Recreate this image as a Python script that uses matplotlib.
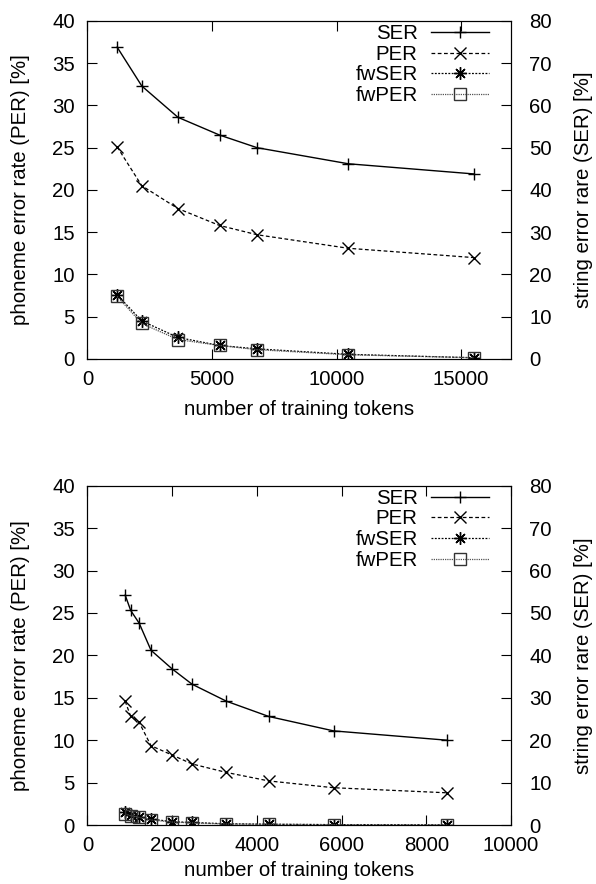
import matplotlib as mpl
import matplotlib.pyplot as plt
import numpy as np

mpl.rc('font', family='Liberation Sans', size=14.7)

# top panel data
tok_a = [1190, 2180, 3630, 5300, 6810, 10470, 15500]
ser_a = [73.8, 64.6, 57.2, 53.0, 50.0, 46.2, 43.8]      # right axis (SER %)
per_a = [25.1, 20.5, 17.8, 15.8, 14.7, 13.1, 12.0]      # left axis (PER %)
fwser_a = [15.2, 9.0, 5.1, 3.2, 2.4, 1.1, 0.3]          # right axis
fwper_a = [7.4, 4.2, 2.3, 1.6, 1.1, 0.5, 0.15]          # left axis

# bottom panel data
tok_b = [890, 1020, 1220, 1500, 2000, 2470, 3280, 4280, 5810, 8490]
ser_b = [54.2, 50.6, 47.6, 41.2, 36.8, 33.2, 29.2, 25.6, 22.2, 20.0]
per_b = [14.6, 12.8, 12.1, 9.35, 8.25, 7.2, 6.2, 5.2, 4.4, 3.8]
fwser_b = [3.0, 2.4, 2.0, 1.4, 0.8, 0.6, 0.3, 0.2, 0.1, 0.04]
fwper_b = [1.3, 1.1, 0.9, 0.6, 0.35, 0.25, 0.12, 0.08, 0.04, 0.02]

fig = plt.figure(figsize=(5.96, 8.84), dpi=100)


def panel(rect, tok, ser, per, fwser, fwper, xmax, xticks, xlabpad):
    ax = fig.add_axes(rect)
    ax2 = ax.twinx()
    ax.set_zorder(ax2.get_zorder() + 1)
    ax.patch.set_visible(False)

    h1, = ax2.plot(tok, ser, color='black', lw=1.0, ls='-', marker='+',
                   ms=9, mew=1.0, label='SER')
    h2, = ax.plot(tok, per, color='black', lw=0.9, ls=(0, (3, 2)), marker='x',
                  ms=8.5, mew=1.0, label='PER')
    h3, = ax2.plot(tok, fwser, color='black', lw=0.9, ls=(0, (1.5, 1.2)),
                   marker=(8, 2, 0), ms=9, mew=1.0, label='fwSER')
    h4, = ax.plot(tok, fwper, color='#555555', lw=0.9, ls=(0, (1, 0.8)),
                  marker='s', ms=9, mew=1.0, mfc='none', mec='#333333',
                  label='fwPER')

    ax.set_xlim(0, xmax)
    ax.set_ylim(0, 40)
    ax2.set_ylim(0, 80)
    ax.set_xticks(xticks)
    ax.set_yticks(np.arange(0, 41, 5))
    ax2.set_yticks(np.arange(0, 81, 10))
    ax.tick_params(axis='x', direction='in', length=7, width=0.8, top=True,
                   pad=8)
    ax.tick_params(axis='y', direction='in', length=7, width=0.8,
                   right=False, pad=9)
    ax2.tick_params(direction='in', length=7, width=0.8, pad=13)
    ax.set_xlabel('number of training tokens', labelpad=xlabpad)
    ax.set_ylabel('phoneme error rate (PER) [%]', labelpad=16)
    ax2.set_ylabel('string error rare (SER) [%]', labelpad=16)
    for sp in list(ax.spines.values()) + list(ax2.spines.values()):
        sp.set_linewidth(0.8)

    ax.legend([h1, h2, h3, h4], ['SER', 'PER', 'fwSER', 'fwPER'],
              loc='upper right', bbox_to_anchor=(0.967, 1.015),
              frameon=False, markerfirst=False,
              handlelength=2.85, handletextpad=0.64, labelspacing=0.08,
              borderaxespad=0.0, borderpad=0.4)
    return ax


panel([0.1468, 0.5939, 0.7106, 0.3824], tok_a, ser_a, per_a, fwser_a, fwper_a,
      17000, [0, 5000, 10000, 15000], 8)
panel([0.1468, 0.0667, 0.7106, 0.3838], tok_b, ser_b, per_b, fwser_b, fwper_b,
      10000, [0, 2000, 4000, 6000, 8000, 10000], 4)

plt.savefig('out.png', dpi=100)
